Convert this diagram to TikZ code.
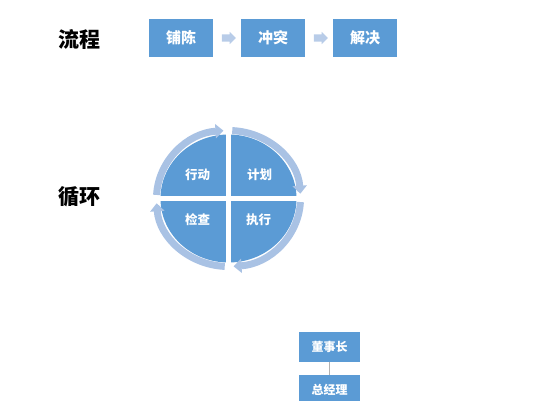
\documentclass[tikz,border=0pt]{standalone}
\usepackage{fontspec}
\newfontfamily\cjk{Noto Sans CJK SC}
\usetikzlibrary{arrows.meta,shapes.arrows,calc}
\definecolor{boxblue}{HTML}{5B9BD5}
\definecolor{ringblue}{HTML}{A9C2E4}
\definecolor{arrowblue}{HTML}{B8CCE8}

\begin{document}
\begin{tikzpicture}[x=1pt,y=1pt,
		title/.style={font=\cjk\bfseries\fontsize{21}{21}\selectfont},
		flowbox/.style={fill=boxblue,text=white,minimum width=64pt,minimum height=38pt,inner sep=0pt,font=\cjk\bfseries\fontsize{15}{15}\selectfont},
		flowarrow/.style={single arrow,fill=arrowblue,minimum height=14pt,inner sep=3.5pt,single arrow head extend=2.5pt},
		quadtext/.style={text=white,font=\cjk\bfseries\fontsize{12.5}{12.5}\selectfont},
		ring/.style={ringblue,line width=7pt,-{Triangle[width=14pt,length=8pt]}},
		orgbox/.style={fill=boxblue,text=white,minimum width=61pt,minimum height=30pt,inner sep=0pt,font=\cjk\bfseries\fontsize{12}{12}\selectfont}]
		\useasboundingbox (0,0) rectangle (558,400);
		\clip (0,0) rectangle (558,400);
		%%%%%%%%%%%%%%%%%%%%%%%%%%%%%%%%%
		\node[title] (liucheng) at (80,361){流程};
		\node[flowbox] (puchen) at (181,362){铺陈};
		\node[flowbox] (chongtu) at (273,362){冲突};
		\node[flowbox] (jiejue) at (365,362){解决};
		\node[flowarrow] (arr1) at ($(puchen.east)!.5!(chongtu.west)$){};
		\node[flowarrow] (arr2) at ($(chongtu.east)!.5!(jiejue.west)$){};
		%%%%%%%%%%%%%%%%%%%%%%%%%%%%%%%%%
		\node[title] (xunhuan) at (80,203){循环};
		\coordinate (c) at (228.5,201.5);
		\fill[boxblue] (c) ellipse [x radius=68, y radius=64];
		\draw[white,line width=5pt] ([xshift=-80pt]c) -- ([xshift=80pt]c);
		\draw[white,line width=5pt] ([yshift=-80pt]c) -- ([yshift=80pt]c);
		\draw[ring] ([shift={(177:72 and 68)}]c) arc[start angle=177,end angle=94,x radius=72,y radius=68];
		\draw[ring] ([shift={(87:72 and 68)}]c) arc[start angle=87,end angle=4,x radius=72,y radius=68];
		\draw[ring] ([shift={(-3:72 and 68)}]c) arc[start angle=-3,end angle=-86,x radius=72,y radius=68];
		\draw[ring] ([shift={(-93:72 and 68)}]c) arc[start angle=-93,end angle=-176,x radius=72,y radius=68];
		\node[quadtext] (xingdong) at (197.5,225){行动};
		\node[quadtext] (jihua) at (259.5,225){计划};
		\node[quadtext] (jiancha) at (197.5,180){检查};
		\node[quadtext] (zhixing) at (258.5,180){执行};
		%%%%%%%%%%%%%%%%%%%%%%%%%%%%%%%%%
		\node[orgbox] (dongshizhang) at (329.5,53){董事长};
		\node[orgbox] (zongjingli) at (329.5,10){总经理};
		\draw[gray!60] (dongshizhang) -- (zongjingli);
	\end{tikzpicture}
\end{document}
